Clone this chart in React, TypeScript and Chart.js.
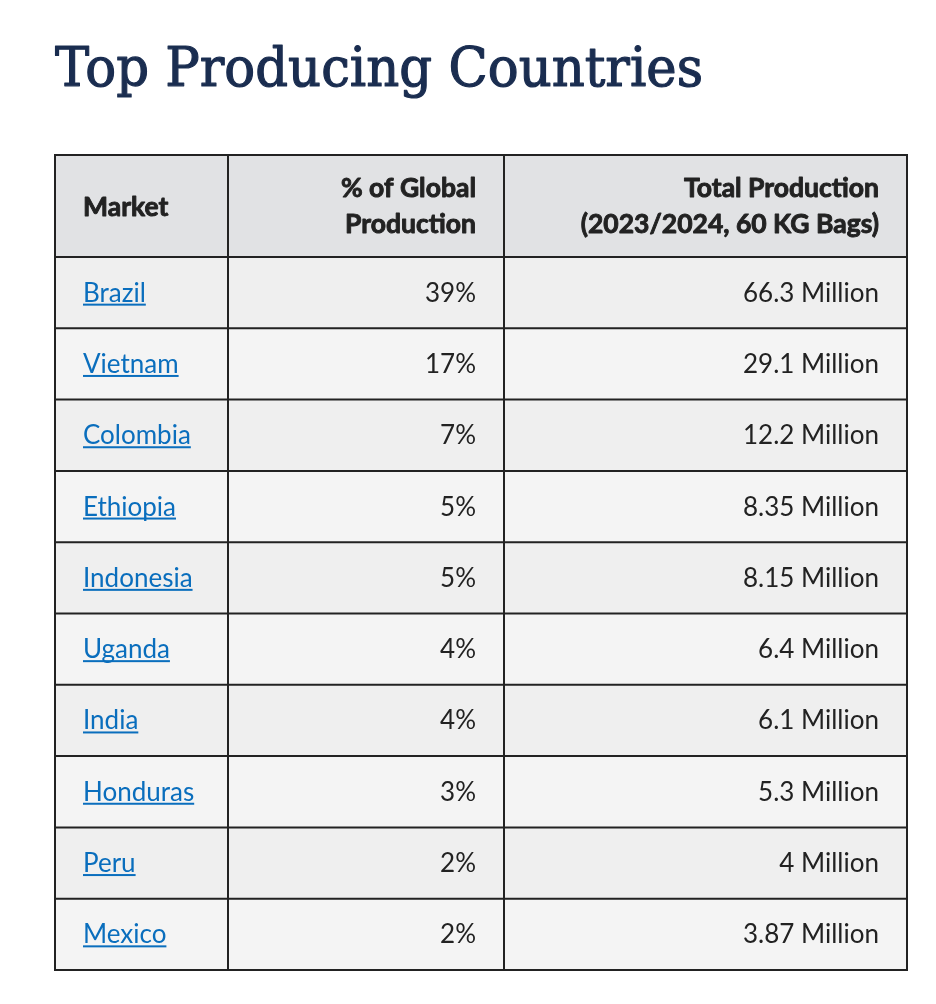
import React, { useEffect, useRef } from "react";
import { Chart, registerables } from "chart.js";

Chart.register(...registerables);

// ---- data ----
const titleText = "Top Producing Countries";
const countries = ["Brazil", "Vietnam", "Colombia", "Ethiopia", "Indonesia", "Uganda", "India", "Honduras", "Peru", "Mexico"];
const sharePct = [39, 17, 7, 5, 5, 4, 4, 3, 2, 2];
const productionMillions = [66.3, 29.1, 12.2, 8.35, 8.15, 6.4, 6.1, 5.3, 4, 3.87];
const headerMarket = ["Market"];
const headerShare = ["% of Global", "Production"];
const headerProduction = ["Total Production", "(2023/2024, 60 KG Bags)"];

// ---- layout (not data) ----
const W = 936;
const H = 1004;
const colEdges = [0, 173, 449, 852];
const TABLE_TOP = 155;
const HEADER_BOTTOM = 257;
const CELL_PAD = 28;
const BODY_FONT = "26px Lato";
const HEAD_FONT = "bold 26.5px Lato";
const TEXT_COLOR = "#222222";
const LINK_COLOR = "#0a6ebd";
const LINE_COLOR = "#222222";
const HEADER_BG = "#e1e2e4";
const ROW_BG = ["#efefef", "#f4f4f4"];
const TITLE_COLOR = "#1a2d50";

const tablePlugin = {
  id: "tablePlugin",
  beforeDatasetsDraw(chart: any) {
    const { ctx, scales } = chart;
    const x = scales.x;
    const left = x.getPixelForValue(colEdges[0]);
    const right = x.getPixelForValue(colEdges[colEdges.length - 1]);
    ctx.save();
    ctx.fillStyle = HEADER_BG;
    ctx.fillRect(left, TABLE_TOP, right - left, HEADER_BOTTOM - TABLE_TOP);
    ctx.restore();
  },
  afterDatasetsDraw(chart: any) {
    const { ctx, scales, chartArea } = chart;
    const x = scales.x;
    const y = scales.y;
    const colPx = colEdges.map((v) => x.getPixelForValue(v));
    const left = colPx[0];
    const right = colPx[colPx.length - 1];
    const n = countries.length;
    const band = (chartArea.bottom - chartArea.top) / n;

    ctx.save();
    // grid lines
    ctx.strokeStyle = LINE_COLOR;
    ctx.lineWidth = 2;
    const hLines = [TABLE_TOP, HEADER_BOTTOM];
    for (let i = 0; i < n; i++) hLines.push(y.getPixelForValue(i) + band / 2);
    hLines.forEach((py) => {
      ctx.beginPath();
      ctx.moveTo(left - 1, py);
      ctx.lineTo(right + 1, py);
      ctx.stroke();
    });
    colPx.forEach((px) => {
      ctx.beginPath();
      ctx.moveTo(px, TABLE_TOP);
      ctx.lineTo(px, chartArea.bottom);
      ctx.stroke();
    });

    // header text (extra weight via thin stroke)
    ctx.fillStyle = TEXT_COLOR;
    ctx.strokeStyle = TEXT_COLOR;
    ctx.lineWidth = 0.9;
    ctx.lineJoin = "round";
    ctx.font = HEAD_FONT;
    ctx.textBaseline = "alphabetic";
    const head = (t: string, px: number, py: number) => {
      ctx.fillText(t, px, py);
      ctx.strokeText(t, px, py);
    };
    ctx.textAlign = "left";
    head(headerMarket[0], colPx[0] + CELL_PAD, 216);
    ctx.textAlign = "right";
    headerShare.forEach((t, i) => head(t, colPx[2] - CELL_PAD, 197 + i * 36));
    headerProduction.forEach((t, i) => head(t, colPx[3] - CELL_PAD, 197 + i * 36));

    // body text
    ctx.font = BODY_FONT;
    for (let i = 0; i < n; i++) {
      const base = y.getPixelForValue(i) + 9;
      ctx.textAlign = "left";
      ctx.fillStyle = LINK_COLOR;
      const tx = colPx[0] + CELL_PAD;
      ctx.fillText(countries[i], tx, base);
      const w = ctx.measureText(countries[i]).width;
      ctx.fillRect(tx, base + 2, w, 2);
      ctx.fillStyle = TEXT_COLOR;
      ctx.textAlign = "right";
      ctx.fillText(`${sharePct[i]}%`, colPx[2] - CELL_PAD, base);
      ctx.fillText(`${productionMillions[i]} Million`, colPx[3] - CELL_PAD, base);
    }

    // title
    ctx.fillStyle = TITLE_COLOR;
    ctx.strokeStyle = TITLE_COLOR;
    ctx.lineWidth = 1.2;
    ctx.font = "54px 'DejaVu Serif'";
    ctx.textAlign = "left";
    ctx.fillText(titleText, 55, 86, 648);
    ctx.strokeText(titleText, 55, 86, 648);
    ctx.restore();
  },
};

export default function App() {
  const ref = useRef<HTMLCanvasElement | null>(null);
  useEffect(() => {
    if (!ref.current) return;
    const datasets = [0, 1, 2].map((c) => ({
      label: `col${c}`,
      data: countries.map(() => [colEdges[c], colEdges[c + 1]]),
      backgroundColor: countries.map((_, i) => ROW_BG[i % 2]),
      borderWidth: 0,
      barPercentage: 1,
      categoryPercentage: 1,
      grouped: false,
    }));
    const chart = new Chart(ref.current, {
      type: "bar",
      data: { labels: countries, datasets: datasets as any },
      options: {
        indexAxis: "y",
        responsive: false,
        animation: false,
        devicePixelRatio: 1,
        layout: { padding: { left: 55, right: W - 907, top: HEADER_BOTTOM, bottom: H - 970 } },
        plugins: { legend: { display: false }, tooltip: { enabled: false }, title: { display: false } },
        scales: {
          x: { type: "linear", min: colEdges[0], max: colEdges[colEdges.length - 1], display: false },
          y: { type: "category", display: false, offset: true, grid: { display: false } },
        },
      },
      plugins: [tablePlugin],
    });
    return () => chart.destroy();
  }, []);
  return (
    <div style={{ position: "absolute", left: 0, top: 0, width: W, height: H, background: "#ffffff" }}>
      <canvas ref={ref} width={W} height={H} style={{ display: "block", width: W, height: H }} />
    </div>
  );
}
